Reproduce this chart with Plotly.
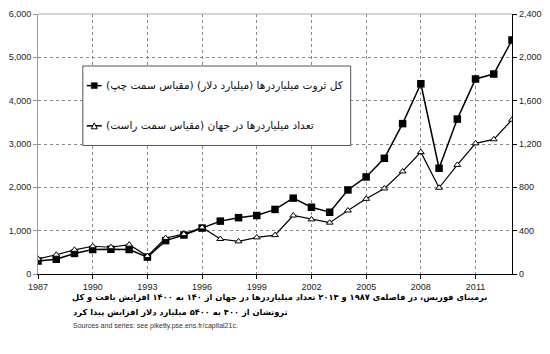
import plotly.graph_objects as go

years = list(range(1987, 2014))
wealth = [300, 340, 475, 565, 570, 565, 390, 770, 900, 1060, 1220, 1300, 1350, 1490,
          1750, 1540, 1425, 1940, 2240, 2670, 3470, 4390, 2440, 3575, 4500, 4615, 5400]
billionaires = [140, 178, 223, 256, 247, 271, 165, 332, 368, 430, 323, 301, 338, 359,
                540, 504, 474, 586, 694, 790, 947, 1125, 796, 1007, 1206, 1243, 1424]
x_ticks = [1987, 1990, 1993, 1996, 1999, 2002, 2005, 2008, 2011]
left_ticks = [0, 1000, 2000, 3000, 4000, 5000, 6000]
right_ticks = [0, 400, 800, 1200, 1600, 2000, 2400]

RLM = "\u200F"
legend_wealth = "کل ثروت میلیاردرها (میلیارد دلار) (مقیاس سمت چپ)"
legend_count = "تعداد میلیاردرها در جهان (مقیاس سمت راست)"
caption1 = "برمبنای فوربس، در فاصله‌ی ۱۹۸۷ و ۲۰۱۳ تعداد میلیاردرها در جهان از ۱۴۰ به ۱۴۰۰ افزایش یافت و کل"
caption2 = "ثروتشان از ۳۰۰ به ۵۴۰۰ میلیارد دلار افزایش پیدا کرد"
source = "Sources and series: see piketty.pse.ens.fr/capital21c."

W, H = 550, 354
L, R, T, B = 37, 37, 9, 80
PW, PH = W - L - R, H - T - B


def px(x):
    return (x - L) / PW


def py(y):
    return (H - B - y) / PH


fig = go.Figure()
fig.add_trace(go.Scatter(
    x=years, y=wealth, mode="lines+markers", name=legend_wealth,
    line=dict(color="black", width=1.5),
    marker=dict(symbol="square", size=7.5, color="black"),
    showlegend=False, yaxis="y"))
fig.add_trace(go.Scatter(
    x=years, y=billionaires, mode="lines+markers", name=legend_count,
    line=dict(color="black", width=1.2),
    marker=dict(symbol="triangle-up", size=6, color="white",
                line=dict(color="black", width=1)),
    showlegend=False, yaxis="y2"))

tickfont = dict(family="Liberation Sans, Arial", size=9, color="#222")

fig.update_layout(
    width=W, height=H,
    margin=dict(l=L, r=R, t=T, b=B),
    paper_bgcolor="white", plot_bgcolor="white",
    xaxis=dict(range=[1987, 2013], tickvals=x_ticks, showgrid=True,
               gridcolor="#888", griddash="dot", gridwidth=1,
               showline=True, linecolor="black", linewidth=1,
               ticks="outside", ticklen=4, tickcolor="black",
               tickfont=tickfont, zeroline=False, fixedrange=True),
    yaxis=dict(range=[0, 6000], tickvals=left_ticks, tickformat=",d",
               showgrid=True, gridcolor="#888", griddash="dot", gridwidth=1,
               showline=True, linecolor="#999", linewidth=1,
               ticks="outside", ticklen=4, tickcolor="#999",
               tickfont=tickfont, zeroline=False),
    yaxis2=dict(range=[0, 2400], tickvals=right_ticks, tickformat=",d",
                overlaying="y", side="right", anchor="x", showgrid=False,
                showline=True, linecolor="black", linewidth=1.2,
                ticks="outside", ticklen=4, tickcolor="black",
                tickfont=tickfont, zeroline=False),
    showlegend=False,
)

shapes = []
# top border of the plot area
shapes.append(dict(type="line", xref="paper", yref="paper", x0=0, x1=1, y0=1, y1=1,
                   line=dict(color="#aaa", width=1)))
# legend box
shapes.append(dict(type="rect", xref="paper", yref="paper",
                   x0=px(82), x1=px(351), y0=py(143), y1=py(62),
                   fillcolor="white", line=dict(color="#555", width=1), layer="above"))
# legend symbols
for yy in (82, 123):
    shapes.append(dict(type="line", xref="paper", yref="paper",
                       x0=px(86), x1=px(101), y0=py(yy), y1=py(yy),
                       line=dict(color="black", width=1.5), layer="above"))
shapes.append(dict(type="rect", xref="paper", yref="paper",
                   x0=px(90.5), x1=px(96.5), y0=py(85), y1=py(79),
                   fillcolor="black", line=dict(color="black", width=0.5), layer="above"))
shapes.append(dict(type="path", xref="paper", yref="paper",
                   path=f"M {px(90.5)},{py(126)} L {px(96.5)},{py(126)} L {px(93.5)},{py(120)} Z",
                   fillcolor="white", line=dict(color="black", width=1), layer="above"))
fig.update_layout(shapes=shapes)

fa_font = dict(family="DejaVu Sans, Noto Sans", size=10.6, color="#111")
ann = []
ann.append(dict(xref="paper", yref="paper", x=px(103), y=py(82), xanchor="left", yanchor="middle",
                text=RLM + legend_wealth + RLM, showarrow=False, font=fa_font))
ann.append(dict(xref="paper", yref="paper", x=px(103), y=py(123), xanchor="left", yanchor="middle",
                text=RLM + legend_count + RLM, showarrow=False, font=fa_font))
cap_font = dict(family="DejaVu Sans, Noto Sans", size=8.3, color="black")
ann.append(dict(xref="paper", yref="paper", x=px(490), y=py(298), xanchor="right", yanchor="middle",
                text="<b>" + RLM + caption1 + RLM + "</b>", showarrow=False, font=cap_font))
ann.append(dict(xref="paper", yref="paper", x=px(70), y=py(313), xanchor="left", yanchor="middle",
                text="<b>" + RLM + caption2 + RLM + "</b>", showarrow=False, font=cap_font))
ann.append(dict(xref="paper", yref="paper", x=px(70), y=py(327), xanchor="left", yanchor="middle",
                text=source, showarrow=False,
                font=dict(family="Liberation Sans, Arial", size=7, color="#333")))
fig.update_layout(annotations=ann)

fig.write_html("out.html")
